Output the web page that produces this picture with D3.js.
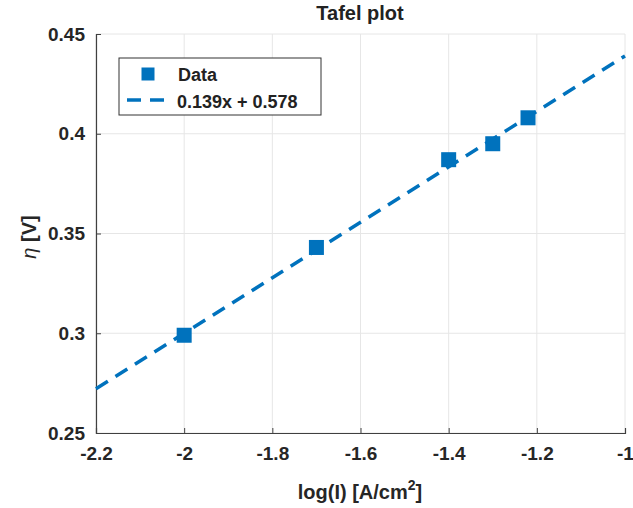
<!DOCTYPE html>
<html>
<head>
<meta charset="utf-8">
<script src="https://cdn.jsdelivr.net/npm/d3@7"></script>
<style>
  body { margin: 0; background: #fff; }
  text { font-family: "Liberation Sans", Arial, sans-serif; }
</style>
</head>
<body>
<svg id="chart" width="633" height="508"></svg>
<script>
// measured points
const logI = [-2, -1.7, -1.4, -1.3, -1.22]
const eta = [0.299, 0.343, 0.387, 0.395, 0.408]

// linear fit shown in legend
const slope = 0.139
const intercept = 0.578
const fitX = [-2.2, -1]

const xTicks = [-2.2, -2, -1.8, -1.6, -1.4, -1.2, -1]
const yTicks = [0.25, 0.3, 0.35, 0.4, 0.45]
const xTickLabels = ['-2.2', '-2', '-1.8', '-1.6', '-1.4', '-1.2', '-1']
const yTickLabels = ['0.25', '0.3', '0.35', '0.4', '0.45']

const blue = '#0072BD'
const svg = d3.select('#chart')

const x = d3.scaleLinear().domain([-2.2, -1]).range([96, 625])
const y = d3.scaleLinear().domain([0.25, 0.45]).range([433, 34])

// grid
svg.append('g')
    .selectAll('line.gx')
    .data(xTicks)
    .enter()
    .append('line')
    .attr('x1', d => x(d)).attr('x2', d => x(d))
    .attr('y1', y(0.25)).attr('y2', y(0.45))
    .attr('stroke', '#e6e6e6').attr('stroke-width', 1)
svg.append('g')
    .selectAll('line.gy')
    .data(yTicks)
    .enter()
    .append('line')
    .attr('x1', x(-2.2)).attr('x2', x(-1))
    .attr('y1', d => y(d)).attr('y2', d => y(d))
    .attr('stroke', '#e6e6e6').attr('stroke-width', 1)

// axes
const xAxis = svg.append('g')
    .attr('transform', `translate(0,${y(0.25)})`)
    .call(d3.axisBottom(x).tickValues(xTicks).tickSize(-5).tickPadding(14)
        .tickFormat((d, i) => xTickLabels[i]))
const yAxis = svg.append('g')
    .attr('transform', `translate(${x(-2.2)},0)`)
    .call(d3.axisLeft(y).tickValues(yTicks).tickSize(-5).tickPadding(11)
        .tickFormat((d, i) => yTickLabels[i]))

;[xAxis, yAxis].forEach(a => {
    a.select('.domain').attr('stroke', '#404040').attr('stroke-width', 1.2)
    a.selectAll('.tick line').attr('stroke', '#404040')
    a.selectAll('.tick text')
        .attr('fill', '#262626')
        .style('font-size', '19px')
        .style('font-weight', 'bold')
})

// fit line
const line = d3.line()
    .x(d => x(d))
    .y(d => y(slope * d + intercept))

svg.append('path')
    .datum(fitX)
    .attr('d', line)
    .attr('fill', 'none')
    .attr('stroke', blue)
    .attr('stroke-width', 3.5)
    .attr('stroke-dasharray', '14,9')

// data markers
const ms = 15
svg.append('g')
    .selectAll('rect')
    .data(logI.map((d, i) => [d, eta[i]]))
    .enter()
    .append('rect')
    .attr('x', d => x(d[0]) - ms / 2)
    .attr('y', d => y(d[1]) - ms / 2)
    .attr('width', ms)
    .attr('height', ms)
    .attr('fill', blue)

// title & labels
svg.append('text')
    .attr('x', 360).attr('y', 20)
    .attr('text-anchor', 'middle')
    .style('font-size', '20px').style('font-weight', 'bold')
    .attr('fill', '#222')
    .text('Tafel plot')

const xl = svg.append('text')
    .attr('x', 360).attr('y', 499)
    .attr('text-anchor', 'middle')
    .style('font-size', '20px').style('font-weight', 'bold')
    .attr('fill', '#262626')
xl.append('tspan').text('log(I) [A/cm')
xl.append('tspan').attr('dy', -9).style('font-size', '14px').text('2')
xl.append('tspan').attr('dy', 9).text(']')

const yl = svg.append('text')
    .attr('transform', 'translate(36,237) rotate(-90)')
    .attr('text-anchor', 'middle')
    .style('font-size', '20px').style('font-weight', 'bold')
    .attr('fill', '#262626')
yl.append('tspan').style('font-style', 'italic').style('font-weight', 'normal').text('η')
yl.append('tspan').text(' [V]')

// legend
const lg = svg.append('g')
lg.append('rect')
    .attr('x', 119).attr('y', 58)
    .attr('width', 202).attr('height', 57)
    .attr('fill', '#fff')
    .attr('stroke', '#333').attr('stroke-width', 1)
lg.append('rect')
    .attr('x', 148 - 6.5).attr('y', 74 - 6.5)
    .attr('width', 13).attr('height', 13)
    .attr('fill', blue)
lg.append('line')
    .attr('x1', 127).attr('x2', 172)
    .attr('y1', 100).attr('y2', 100)
    .attr('stroke', blue).attr('stroke-width', 3.5)
    .attr('stroke-dasharray', '14,9')
lg.append('text')
    .attr('x', 178).attr('y', 81)
    .style('font-size', '18px').style('font-weight', 'bold')
    .attr('fill', '#222')
    .text('Data')
lg.append('text')
    .attr('x', 177).attr('y', 108)
    .style('font-size', '18px').style('font-weight', 'bold')
    .attr('fill', '#222')
    .text(`${slope}x + ${intercept}`)
</script>
</body>
</html>
